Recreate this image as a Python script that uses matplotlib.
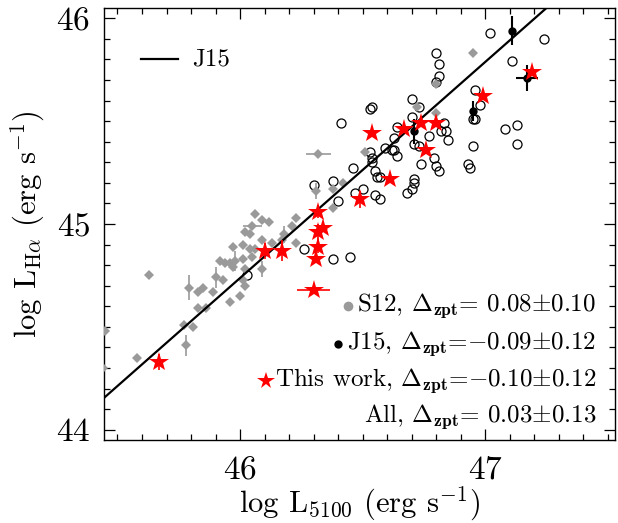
import numpy as np
import matplotlib
matplotlib.use("Agg")
import matplotlib.pyplot as plt
from matplotlib.ticker import MultipleLocator

plt.rcParams.update({
    "font.family": "serif",
    "font.serif": ["cmr10", "DejaVu Serif"],
    "mathtext.fontset": "cm",
    "axes.formatter.use_mathtext": True,
})

GRAY = "#9a9a9a"
RED = "#ff0000"

# S12 sample (grey diamonds)
s12_x = [46.06, 46.09, 46.12, 46.23, 46.21, 46.05, 46.02, 46.04, 46.09, 46.17,
         46.23, 45.97, 46.01, 46.04, 46.06, 46.13, 46.18, 45.92, 45.94, 45.96,
         45.98, 46.01, 46.05, 45.97, 46.02, 46.09, 45.90, 45.93, 46.01, 46.02,
         45.79, 45.83, 45.85, 45.89, 45.96, 46.00, 45.83, 45.86, 45.77, 45.81,
         45.78, 45.63, 45.58, 45.45, 45.44, 46.32, 46.31, 46.38, 46.42, 46.38,
         46.51, 46.95, 46.80, 46.72, 46.80]
s12_y = [45.05, 45.02, 45.01, 45.03, 44.99, 44.99, 44.96, 44.95, 44.92, 44.92,
         44.91, 44.89, 44.90, 44.88, 44.88, 44.91, 44.95, 44.82, 44.81, 44.81,
         44.82, 44.83, 44.84, 44.79, 44.78, 44.78, 44.74, 44.73, 44.73, 44.70,
         44.69, 44.67, 44.69, 44.67, 44.62, 44.65, 44.59, 44.59, 44.51, 44.50,
         44.41, 44.75, 44.35, 44.48, 44.30, 45.34, 45.16, 45.17, 45.20, 45.08,
         45.35, 45.83, 45.68, 45.57, 45.54]
s12_xerr = [0.01] * 55
s12_yerr = [0.015] * 55
for i, e in [(5, 0.04), (45, 0.05)]:
    s12_xerr[i] = e
for i, e in [(16, 0.04), (20, 0.05), (25, 0.04), (26, 0.05), (30, 0.06),
             (40, 0.05), (46, 0.04)]:
    s12_yerr[i] = e

# open circles
oc_x = [47.02, 47.24, 47.11, 46.80, 46.81, 46.81, 46.80, 46.96, 46.98, 46.70,
        46.73, 46.53, 46.54, 46.41, 46.70, 46.83, 46.64, 46.63, 46.82, 46.84,
        46.85, 46.77, 47.08, 47.13, 47.13, 46.95, 46.71, 46.73, 46.59, 46.53,
        46.54, 46.54, 46.62, 46.63, 46.64, 46.79, 46.74, 46.80, 46.81, 46.93,
        46.94, 46.46, 46.55, 46.56, 46.57, 46.71, 46.71, 46.70, 46.68, 46.47,
        46.50, 46.55, 46.57, 46.40, 46.95, 46.96, 46.30, 46.38, 46.26, 46.38,
        46.45, 46.03]
oc_y = [45.93, 45.90, 45.79, 45.83, 45.78, 45.72, 45.69, 45.65, 45.58, 45.61,
        45.57, 45.56, 45.57, 45.49, 45.52, 45.49, 45.47, 45.42, 45.45, 45.45,
        45.41, 45.43, 45.46, 45.48, 45.39, 45.38, 45.39, 45.38, 45.37, 45.35,
        45.32, 45.30, 45.36, 45.36, 45.33, 45.32, 45.29, 45.28, 45.26, 45.29,
        45.27, 45.27, 45.26, 45.23, 45.23, 45.22, 45.20, 45.17, 45.15, 45.15,
        45.17, 45.14, 45.12, 45.11, 45.51, 45.51, 45.19, 45.21, 44.88, 44.83,
        44.84, 44.75]

# J15 (black filled)
j15_x = [47.11, 47.17, 46.95, 46.71]
j15_y = [45.94, 45.71, 45.55, 45.45]
j15_xerr = [0.01, 0.045, 0.01, 0.01]
j15_yerr = [0.07, 0.065, 0.05, 0.06]

# this work (red stars)
tw_x = [47.19, 46.99, 46.54, 46.67, 46.74, 46.80, 46.76, 46.61, 46.49, 46.32,
        46.34, 46.32, 46.32, 46.31, 46.30, 46.10, 46.17, 45.67]
tw_y = [45.74, 45.62, 45.44, 45.46, 45.49, 45.49, 45.36, 45.22, 45.12, 45.06,
        44.98, 44.96, 44.89, 44.83, 44.68, 44.87, 44.87, 44.33]
tw_xerr = [0.01] * 14 + [0.067, 0.01, 0.01, 0.01]
tw_yerr = [0.01, 0.01, 0.01, 0.01, 0.01, 0.01, 0.01, 0.01, 0.04, 0.03,
           0.01, 0.04, 0.03, 0.01, 0.02, 0.04, 0.05, 0.04]

# J15 relation
J15_SLOPE = 1.05
J15_X0, J15_Y0 = 45.45, 44.16

rows = [("S12", " 0.08"r"$\pm$0.10"),
        ("J15", r"$-$0.09$\pm$0.12"),
        ("This work", r"$-$0.10$\pm$0.12"),
        ("All", " 0.03"r"$\pm$0.13")]

XLIM = (45.445, 47.53)
YLIM = (43.95, 46.05)

fig = plt.figure(figsize=(6.18, 5.23), dpi=100)
ax = fig.add_axes([0.1683, 0.1587, 0.827, 0.826])

ax.plot(oc_x, oc_y, "o", mfc="none", mec="k", mew=0.9, ms=6.5, ls="none", zorder=2)
ax.errorbar(s12_x, s12_y, xerr=s12_xerr, yerr=s12_yerr, fmt="D", color=GRAY,
            ms=5.5, mew=0, elinewidth=1.2, capsize=0, zorder=3)
ax.errorbar(j15_x, j15_y, xerr=j15_xerr, yerr=j15_yerr, fmt="o", color="k",
            ms=5, elinewidth=1.5, capsize=0, zorder=4)
ax.errorbar(tw_x, tw_y, xerr=tw_xerr, yerr=tw_yerr, fmt="*", color=RED,
            ms=15, mew=0, elinewidth=1.2, capsize=0, zorder=5)

xx = np.array(XLIM)
ax.plot(xx, J15_Y0 + J15_SLOPE * (xx - J15_X0), "k-", lw=1.6, zorder=4)

ax.set_xlim(*XLIM)
ax.set_ylim(*YLIM)
ax.xaxis.set_major_locator(MultipleLocator(1))
ax.xaxis.set_minor_locator(MultipleLocator(0.1))
ax.yaxis.set_major_locator(MultipleLocator(1))
ax.yaxis.set_minor_locator(MultipleLocator(0.1))
ax.tick_params(which="both", direction="in", top=True, right=True, width=0.9,
               labelsize=24)
ax.tick_params(which="major", length=8)
ax.tick_params(which="minor", length=4)
ax.tick_params(axis="x", pad=11)
ax.tick_params(axis="y", pad=10)
for s in ax.spines.values():
    s.set_linewidth(1.0)

ax.set_xlabel(r"log L$_{\rm 5100}$ (erg s$^{-1}$)", fontsize=22, labelpad=0)
ax.set_ylabel(r"log L$_{\rm H\alpha}$ (erg s$^{-1}$)", fontsize=22, labelpad=6)

# legend for the line
ax.plot([0.072, 0.145], [0.882, 0.882], "k-", lw=1.6, transform=ax.transAxes)
ax.text(0.172, 0.882, "J15", fontsize=18, va="center", transform=ax.transAxes)

row_y = [0.31, 0.222, 0.137, 0.053]
texts = []
for (name, val), yy in zip(rows, row_y):
    t = ax.text(0.963, yy, name + r", $\Delta_{\bf zpt}$=" + val, fontsize=18,
                ha="right", va="center", transform=ax.transAxes)
    texts.append(t)

fig.canvas.draw()
inv = ax.transAxes.inverted()
sym = [dict(marker="o", color=GRAY, ms=7), dict(marker="o", color="k", ms=6),
       dict(marker="*", color=RED, ms=13), None]
for t, yy, kw in zip(texts, row_y, sym):
    if kw is None:
        continue
    bb = t.get_window_extent()
    x0 = inv.transform((bb.x0, bb.y0))[0]
    ax.plot([x0 - 0.018], [yy], ls="none", mew=0, transform=ax.transAxes,
            clip_on=False, **kw)

fig.savefig("out.png", dpi=100)
